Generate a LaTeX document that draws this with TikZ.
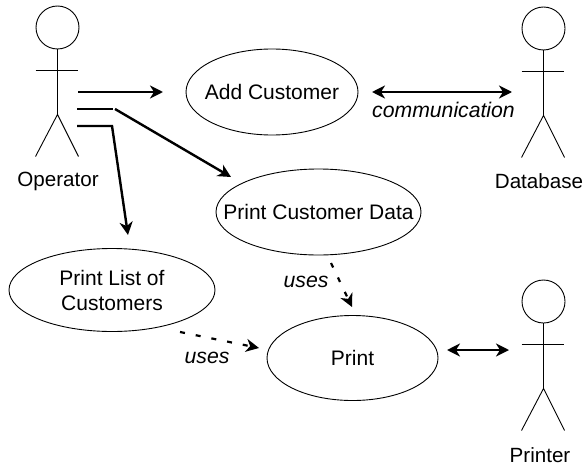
\documentclass[tikz,border=0pt]{standalone}
\usepackage{fontspec}
\setmainfont{Liberation Sans}
\usetikzlibrary{arrows.meta,shapes.geometric}
\tikzset{
  usecase/.style={draw,ellipse,line width=0.9pt,inner sep=0pt,align=center,font=\fontsize{21}{25}\selectfont},
  lbl/.style={inner sep=0pt,font=\fontsize{20.6}{24}\selectfont},
  ilbl/.style={inner sep=0pt,font=\fontsize{21.2}{24}\selectfont\itshape},
  limb/.style={line width=0.9pt},
  conn/.style={line width=2.4pt},
  arrowed/.style={conn,-{Stealth[length=13pt,width=13pt,inset=4pt]}},
  biarrow/.style={conn,{Stealth[length=13pt,width=13pt,inset=4pt]}-{Stealth[length=13pt,width=13pt,inset=4pt]}},
  dashedarrow/.style={line width=2.2pt,dash pattern=on 5pt off 11pt,-{Stealth[length=13pt,width=13pt,inset=4pt]}}
}
\newcommand{\stickman}[3]{% name, x, y of head centre
  \node[draw,circle,line width=0.9pt,minimum size=43pt,inner sep=0pt] (#1head) at (#2,#3) {};
  \coordinate (#1hip) at (#2,#3+87);
  \coordinate (#1la) at (#2-22,#3+43);
  \coordinate (#1ra) at (#2+20,#3+43);
  \coordinate (#1lf) at (#2-22,#3+129);
  \coordinate (#1rf) at (#2+21,#3+129);
  \draw[limb] (#1head.south) -- (#1hip);
  \draw[limb] (#1la) -- (#1ra);
  \draw[limb] (#1lf) -- (#1hip) -- (#1rf);
}
\begin{document}
\begin{tikzpicture}[x=1pt,y=-1pt]
\useasboundingbox (0,0) rectangle (585,468);
\stickman{op}{57.5}{27.5}
\stickman{db}{543.5}{28.5}
\stickman{pr}{543.5}{301.5}
\node[lbl] (oplabel) at (58,181) {Operator};
\node[lbl] (dblabel) at (539,181) {Database};
\node[lbl] (prlabel) at (540,455) {Printer};
\node[usecase,minimum width=172pt,minimum height=86pt] (add) at (272,92) {\makebox[0pt]{Add Customer}};
\node[usecase,minimum width=205pt,minimum height=86pt] (pcd) at (318.5,212) {\makebox[0pt]{Print Customer Data}};
\node[usecase,minimum width=206pt,minimum height=83pt] (pl) at (112,290) {Print List of\\Customers};
\node[usecase,minimum width=171pt,minimum height=85pt] (print) at (352.5,358) {Print};
\node[ilbl] (comm) at (443.5,110) {communication};
\node[ilbl] (uses1) at (306,282) {uses};
\node[ilbl] (uses2) at (207,358) {uses};
\coordinate (a1s) at (78,92);
\coordinate (a1e) at (163,92);
\coordinate (a2s) at (77,109);
\coordinate (a2m) at (113,109);
\coordinate (a2b) at (115,109);
\coordinate (a2e) at (231,177);
\coordinate (a3s) at (77,126);
\coordinate (a3m) at (112,126);
\coordinate (a3e) at (128,235);
\coordinate (c1s) at (372,92);
\coordinate (c1e) at (512,92);
\coordinate (c2s) at (447,350);
\coordinate (c2e) at (509,350);
\coordinate (d1s) at (331,263);
\coordinate (d1e) at (352,307);
\coordinate (d2s) at (180,332);
\coordinate (d2e) at (259,348);
\draw[arrowed] (a1s) -- (a1e);
\draw[conn] (a2s) -- (a2m);
\draw[arrowed] (a2b) -- (a2e);
\draw[arrowed] (a3s) -- (a3m) -- (a3e);
\draw[biarrow] (c1s) -- (c1e);
\draw[biarrow] (c2s) -- (c2e);
\draw[dashedarrow] (d1s) -- (d1e);
\draw[dashedarrow] (d2s) -- (d2e);
\end{tikzpicture}
\end{document}
